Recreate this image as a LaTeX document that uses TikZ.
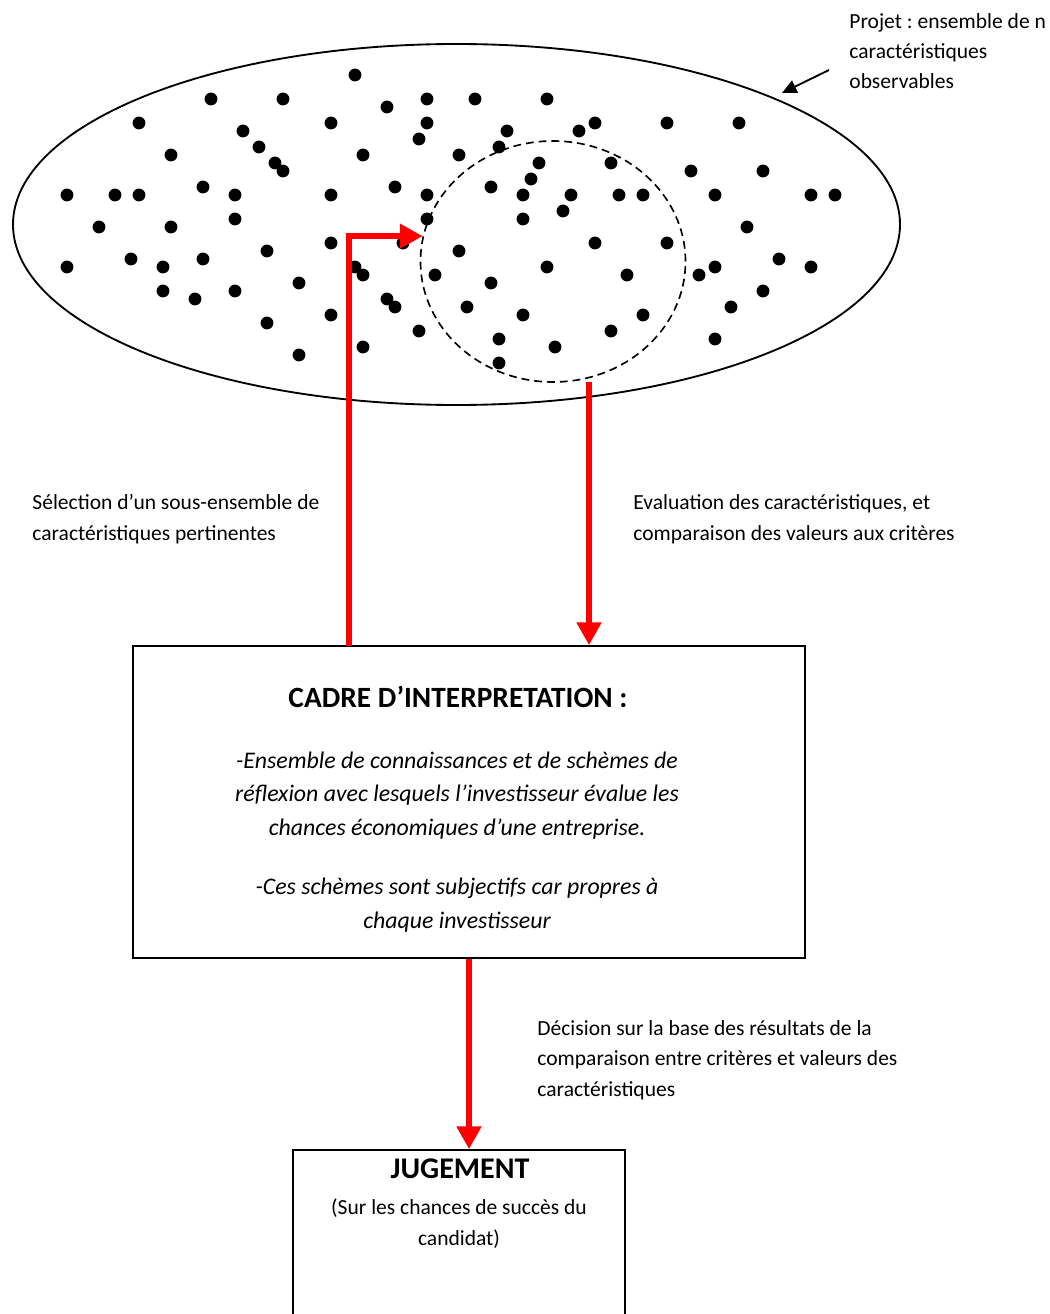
\documentclass[tikz,border=0pt]{standalone}
\usepackage{fontspec}
\setmainfont{Carlito}
\frenchspacing
\usetikzlibrary{shapes.geometric,arrows.meta,positioning}
\newcommand{\pixel}{0.483pt}

\begin{document}
\begin{tikzpicture}[x=\pixel, y=-\pixel,
  every node/.style={font=\fontsize{10.4}{14.5}\selectfont},
  box/.style={draw, line width=0.8pt, inner sep=0pt},
  lbl/.style={anchor=base west, align=left, inner sep=0pt},
  boxtxt/.style={anchor=base, align=center, inner sep=0pt},
  redarrow/.style={draw=red, line width=2.6pt, -{Triangle[width=11.5pt,length=11pt]}}]
\clip (0,0) rectangle (1049,1314);

% the observable characteristics
\foreach \x/\y in {355/75,211/99,283/99,427/99,475/99,547/99,387/107,
  139/123,331/123,427/123,595/123,667/123,739/123,243/131,507/131,579/131,
  419/139,259/147,499/147,171/155,363/155,459/155,275/163,539/163,611/163,
  283/171,691/171,763/171,531/179,203/187,395/187,491/187,
  67/195,115/195,139/195,235/195,331/195,427/195,523/195,571/195,619/195,
  643/195,715/195,811/195,835/195,563/211,235/219,427/219,523/219,
  99/227,171/227,747/227,331/243,403/243,595/243,667/243,267/251,459/251,
  131/259,203/259,779/259,67/267,163/267,355/267,547/267,715/267,811/267,
  363/275,435/275,627/275,699/275,299/283,491/283,163/291,235/291,763/291,
  195/299,387/299,395/307,467/307,731/307,331/315,523/315,643/315,267/323,
  419/331,611/331,499/339,715/339,363/347,555/347,299/355,499/363}
  \fill (\x,\y) circle (3.1pt);

\node[draw, ellipse, line width=0.9pt, inner sep=0pt, minimum width=887*\pixel, minimum height=361*\pixel] (projet) at (456.5,224.5) {};
\node[draw, ellipse, line width=0.8pt, dash pattern=on 3.8pt off 2.4pt, inner sep=0pt, minimum width=265*\pixel, minimum height=241*\pixel] (sel) at (553,261.5) {};

\node[lbl] (projlbl) at (849,89) {Projet : ensemble de n\\caractéristiques\\observables};
\coordinate (ptr) at (829,70);
\coordinate (ptrtip) at (782,93);
\draw[line width=0.9pt, -{Triangle[width=6.5pt,length=7pt]}] (ptr) -- (ptrtip);

% interpretation frame
\node[box, minimum width=672*\pixel, minimum height=312*\pixel] (cadre) at (469,802) {};
\node[boxtxt, font=\fontsize{14.2}{17}\selectfont\bfseries] (cadretitle) at (458,707) {CADRE D’INTERPRETATION :};
\node[boxtxt, font=\fontsize{11.5}{16.1}\selectfont\itshape] (cadretxt) at (457,835) {-Ensemble de connaissances et de schèmes de\\réflexion avec lesquels l’investisseur évalue les\\chances économiques d’une entreprise.};
\node[boxtxt, font=\fontsize{11.5}{16.1}\selectfont\itshape] (cadrenote) at (457,928) {-Ces schèmes sont subjectifs car propres à\\chaque investisseur};

% judgement
\node[box, minimum width=332*\pixel, minimum height=240*\pixel] (jug) at (459,1270) {};
\node[boxtxt, font=\fontsize{14.5}{17}\selectfont\bfseries] (jugtitle) at (460,1178) {JUGEMENT};
\node[boxtxt] (jugnote) at (459,1245) {(Sur les chances de succès du\\candidat)};

% links
\node[lbl] (sellbl) at (32,540) {Sélection d’un sous-ensemble de\\caractéristiques pertinentes};
\node[lbl] (evallbl) at (633,540) {Evaluation des caractéristiques, et\\comparaison des valeurs aux critères};
\node[lbl] (declbl) at (537,1096) {Décision sur la base des résultats de la\\comparaison entre critères et valeurs des\\caractéristiques};

\coordinate (selfoot) at (349,646);
\coordinate (evaltop) at (589,382);
\draw[redarrow] (selfoot) |- (sel.169);
\draw[redarrow] (evaltop) -- (evaltop |- cadre.north);
\draw[redarrow] (cadre.south) -- (cadre.south |- jug.north);
\end{tikzpicture}
\end{document}
